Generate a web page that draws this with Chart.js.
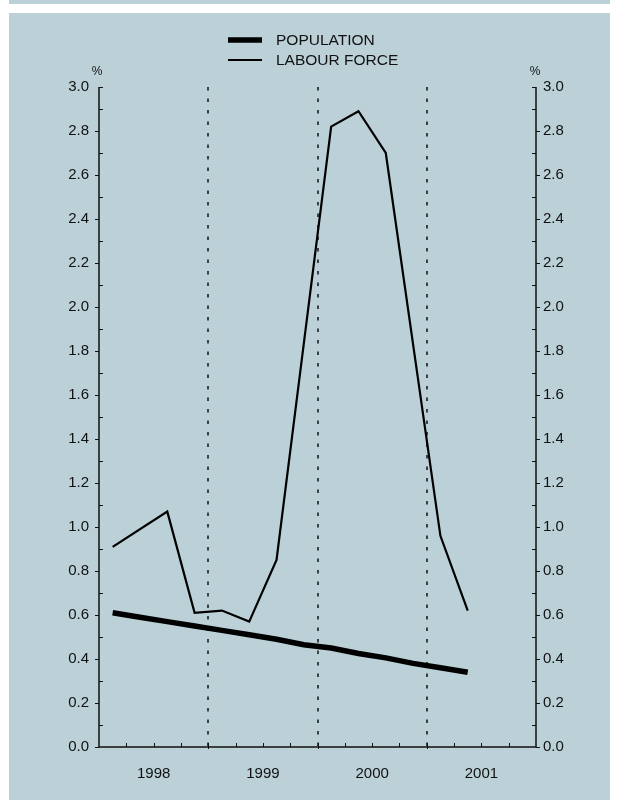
<!DOCTYPE html>
<html>
<head>
<meta charset="utf-8">
<title>Population and labour force growth</title>
<script src="https://cdn.jsdelivr.net/npm/chart.js@4.4.1/dist/chart.umd.min.js"></script>
<style>
  html, body { margin: 0; padding: 0; background: #fff; }
  #wrap { position: relative; width: 618px; height: 800px; overflow: hidden; }
  .band { position: absolute; background: #bbd1d7; }
  #strip { left: 9px; top: 0; width: 601px; height: 4px; }
  #panel { left: 9px; top: 13px; width: 601px; height: 787px; }
  canvas { position: absolute; left: 0; top: 0; }
</style>
</head>
<body>
<div id="wrap">
  <div class="band" id="strip"></div>
  <div class="band" id="panel"></div>
  <canvas id="chart" width="618" height="800"></canvas>
</div>
<script>
// quarterly series, 1998 Q1 .. 2001 Q2 (null where the quarter isn't plotted on its own)
const years = ['1998', '1999', '2000', '2001'];
const quarters = ['Mar-98', 'Jun-98', 'Sep-98', 'Dec-98',
                  'Mar-99', 'Jun-99', 'Sep-99', 'Dec-99',
                  'Mar-00', 'Jun-00', 'Sep-00', 'Dec-00',
                  'Mar-01', 'Jun-01'];
const population = [0.61, 0.59, 0.57, 0.55, 0.53, 0.51, 0.49, 0.465,
                    0.45, 0.425, 0.405, 0.38, 0.36, 0.34];
const labourForce = [0.91, null, 1.07, 0.61, 0.62, 0.57, 0.85, null,
                     2.82, 2.89, 2.70, null, 0.96, 0.62];
const yTicks = [0, 0.2, 0.4, 0.6, 0.8, 1.0, 1.2, 1.4, 1.6, 1.8, 2.0, 2.2, 2.4, 2.6, 2.8, 3.0];

const FONT = '"Liberation Sans", Arial, sans-serif';
const INK = '#111';

// quarter i sits in the middle of its slot on a 0..16 axis
const toPoints = (vals) => vals.map((v, i) => ({ x: i + 0.5, y: v }));

const axesPlugin = {
  id: 'axesFrame',
  beforeDatasetsDraw(chart) {
    const { ctx, chartArea: a, scales } = chart;
    const x = scales.x, y = scales.y;
    ctx.save();

    // dashed year separators
    ctx.strokeStyle = '#3b4043';
    ctx.lineWidth = 2;
    ctx.setLineDash([3.5, 8]);
    for (let q = 4; q < 16; q += 4) {
      const px = Math.round(x.getPixelForValue(q));
      ctx.beginPath();
      ctx.moveTo(px, a.top);
      ctx.lineTo(px, a.bottom);
      ctx.stroke();
    }
    ctx.setLineDash([]);

    // axis lines
    ctx.strokeStyle = INK;
    ctx.lineWidth = 1.5;
    ctx.beginPath();
    ctx.moveTo(a.left, a.top);
    ctx.lineTo(a.left, a.bottom);
    ctx.lineTo(a.right, a.bottom);
    ctx.lineTo(a.right, a.top);
    ctx.stroke();

    // y ticks: majors outward, minors inward
    ctx.lineWidth = 1;
    ctx.beginPath();
    for (let v = 0; v <= 30; v++) {
      const py = Math.round(y.getPixelForValue(v / 10)) + 0.5;
      if (v % 2 === 0 && v !== 30) {
        ctx.moveTo(a.left - 4, py); ctx.lineTo(a.left, py);
        ctx.moveTo(a.right, py); ctx.lineTo(a.right + 4, py);
      } else {
        ctx.moveTo(a.left, py); ctx.lineTo(a.left + 4, py);
        ctx.moveTo(a.right - 4, py); ctx.lineTo(a.right, py);
      }
    }
    // x ticks at each quarter
    for (let q = 1; q < 16; q++) {
      const px = Math.round(x.getPixelForValue(q)) + 0.5;
      if (q % 4 === 0) {
        ctx.moveTo(px, a.bottom - 4); ctx.lineTo(px, a.bottom + 2);
      } else {
        ctx.moveTo(px, a.bottom - 4); ctx.lineTo(px, a.bottom);
      }
    }
    ctx.stroke();
    ctx.restore();
  },
  afterDraw(chart) {
    const { ctx, chartArea: a } = chart;
    ctx.save();
    ctx.fillStyle = INK;
    ctx.textBaseline = 'middle';

    // unit markers above both axes
    ctx.font = '12px ' + FONT;
    ctx.textAlign = 'center';
    ctx.fillText('%', a.left - 2, 72);
    ctx.fillText('%', a.right - 1, 72);

    // legend
    const items = chart.data.datasets;
    ctx.font = '15.5px ' + FONT;
    ctx.textAlign = 'left';
    items.forEach((ds, i) => {
      const ly = 40 + i * 20;
      ctx.strokeStyle = ds.borderColor;
      ctx.lineWidth = ds.borderWidth;
      ctx.beginPath();
      ctx.moveTo(228, ly);
      ctx.lineTo(262, ly);
      ctx.stroke();
      ctx.fillText(ds.label, 276, ly + 1);
    });
    ctx.restore();
  }
};

const yAxis = (pos, width, pad) => ({
  type: 'linear',
  position: pos,
  min: 0,
  max: 3,
  grid: { display: false, drawTicks: false },
  border: { display: false },
  afterBuildTicks: (s) => { s.ticks = yTicks.map((v) => ({ value: v })); },
  afterFit: (s) => { s.width = width; },
  ticks: {
    padding: pad,
    color: INK,
    font: { family: FONT, size: 15 },
    callback: (v) => Number(v).toFixed(1)
  }
});

new Chart(document.getElementById('chart'), {
  type: 'line',
  data: {
    datasets: [
      {
        label: 'POPULATION',
        data: toPoints(population),
        borderColor: '#000',
        borderWidth: 5.5,
        pointRadius: 0,
        tension: 0
      },
      {
        label: 'LABOUR FORCE',
        data: toPoints(labourForce),
        borderColor: '#000',
        borderWidth: 2.2,
        pointRadius: 0,
        spanGaps: true,
        tension: 0
      }
    ]
  },
  options: {
    responsive: false,
    animation: false,
    devicePixelRatio: 1,
    layout: { padding: { top: 87, left: 0, right: 0, bottom: 0 } },
    plugins: {
      legend: { display: false },
      tooltip: { enabled: false }
    },
    scales: {
      x: {
        type: 'linear',
        min: 0,
        max: 16,
        grid: { display: false, drawTicks: false },
        border: { display: false },
        afterBuildTicks: (s) => { s.ticks = years.map((_, i) => ({ value: i * 4 + 2 })); },
        afterFit: (s) => { s.height = 53; },
        ticks: {
          padding: 18,
          maxRotation: 0,
          autoSkip: false,
          color: INK,
          font: { family: FONT, size: 15 },
          callback: (v) => years[(v - 2) / 4]
        }
      },
      y: yAxis('left', 99, 10),
      y2: yAxis('right', 82, 7)
    }
  },
  plugins: [axesPlugin]
});
</script>
</body>
</html>
